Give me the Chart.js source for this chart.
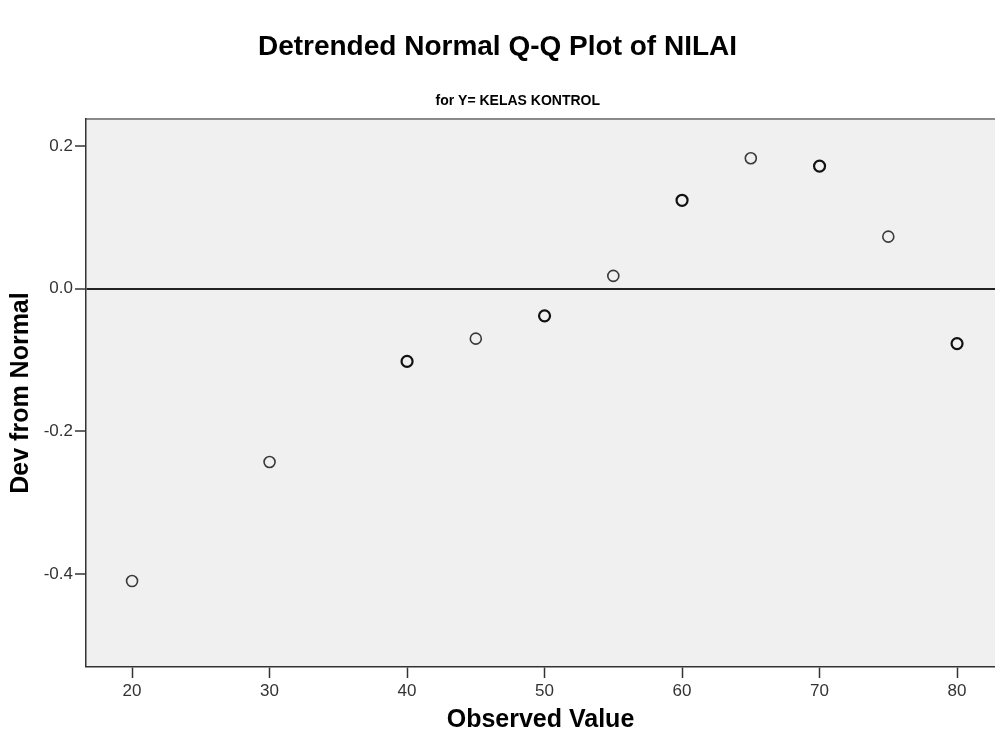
<!DOCTYPE html>
<html>
<head>
<meta charset="utf-8">
<script src="https://cdn.jsdelivr.net/npm/chart.js@4/dist/chart.umd.min.js"></script>
<style>
  html, body { margin: 0; padding: 0; background: #fff; }
  #wrap { width: 995px; height: 747px; }
</style>
</head>
<body>
<div id="wrap"><canvas id="qq" width="995" height="747"></canvas></div>
<script>
// observed values and their deviation from the normal line
const observed = [20, 30, 40, 45, 50, 55, 60, 65, 70, 75, 80];
const devFromNormal = [-0.410, -0.243, -0.102, -0.070, -0.038, 0.018, 0.124, 0.183, 0.172, 0.073, -0.077];
// tied observations are drawn twice in the original, so they look heavier
const ties = [1, 1, 2, 1, 2, 1, 2, 1, 2, 1, 2];
const xTicks = [20, 30, 40, 50, 60, 70, 80];
const yTicks = [-0.4, -0.2, 0.0, 0.2];

const plotBg = {
  id: 'plotBg',
  beforeDraw(chart) {
    const { ctx, chartArea: a } = chart;
    ctx.save();
    ctx.fillStyle = '#f0f0f0';
    ctx.fillRect(a.left, a.top, a.right - a.left, a.bottom - a.top);
    ctx.strokeStyle = '#8a8a8a';
    ctx.lineWidth = 2;
    ctx.beginPath();
    ctx.moveTo(a.left, a.top);
    ctx.lineTo(a.right, a.top);
    ctx.stroke();
    ctx.restore();
  },
  afterDraw(chart) {
    const { ctx, chartArea: a } = chart;
    ctx.save();
    ctx.fillStyle = '#000';
    ctx.font = 'bold 14px Arial, sans-serif';
    ctx.textAlign = 'center';
    ctx.textBaseline = 'middle';
    ctx.fillText('for Y= KELAS KONTROL', a.left + (a.right - a.left) * 0.475, a.top - 18);
    ctx.restore();
  }
};

const points = observed.map((x, i) => ({ x: x, y: devFromNormal[i] }));

new Chart(document.getElementById('qq'), {
  type: 'scatter',
  data: {
    datasets: [{
      data: points,
      pointRadius: 5.5,
      pointHoverRadius: 5.5,
      backgroundColor: 'rgba(0,0,0,0)',
      borderColor: (c) => ties[c.dataIndex] > 1 ? '#111' : '#3a3a3a',
      borderWidth: (c) => ties[c.dataIndex] > 1 ? 2.2 : 1.6
    }]
  },
  options: {
    responsive: false,
    animation: false,
    layout: { padding: 0, autoPadding: false },
    plugins: {
      legend: { display: false },
      tooltip: { enabled: false },
      title: {
        display: true,
        text: 'Detrended Normal Q-Q Plot of NILAI',
        color: '#000',
        font: { family: 'Arial', size: 28, weight: 'bold', lineHeight: 1.2 },
        padding: { top: 30, bottom: 55.4 }
      }
    },
    scales: {
      x: {
        type: 'linear',
        min: 16.65,
        max: 82.76,
        afterBuildTicks: (s) => { s.ticks = xTicks.map(v => ({ value: v })); },
        afterFit: (s) => { s.height = 80; s.paddingLeft = 0; s.paddingRight = 0; },
        border: { display: true, color: '#333', width: 1.5 },
        grid: { drawOnChartArea: false, drawTicks: true, tickLength: 11, tickColor: '#333', tickWidth: 1.5 },
        ticks: { color: '#333', font: { family: 'Arial', size: 17 }, padding: 3, maxRotation: 0 },
        title: {
          display: true,
          text: 'Observed Value',
          color: '#000',
          font: { family: 'Arial', size: 25, weight: 'bold', lineHeight: 1.2 },
          padding: { top: 0, bottom: 12 }
        }
      },
      y: {
        type: 'linear',
        min: -0.5305,
        max: 0.238,
        afterBuildTicks: (s) => { s.ticks = yTicks.map(v => ({ value: v })); },
        afterFit: (s) => { s.width = 86; s.paddingTop = 0; s.paddingBottom = 0; },
        border: { display: true, color: '#333', width: 1.5 },
        grid: {
          drawOnChartArea: true,
          drawTicks: true,
          tickLength: 11,
          tickColor: '#333',
          tickWidth: 1.5,
          color: (c) => (c.tick && c.tick.value === 0) ? '#222' : 'rgba(0,0,0,0)',
          lineWidth: (c) => (c.tick && c.tick.value === 0) ? 2 : 0
        },
        ticks: {
          color: '#333',
          font: { family: 'Arial', size: 17 },
          padding: 2,
          callback: (v) => Number(v).toFixed(1)
        },
        title: {
          display: true,
          text: 'Dev from Normal',
          color: '#000',
          font: { family: 'Arial', size: 25, weight: 'bold', lineHeight: 1.2 },
          padding: { top: 6, bottom: 0 }
        }
      }
    }
  },
  plugins: [plotBg]
});
</script>
</body>
</html>
